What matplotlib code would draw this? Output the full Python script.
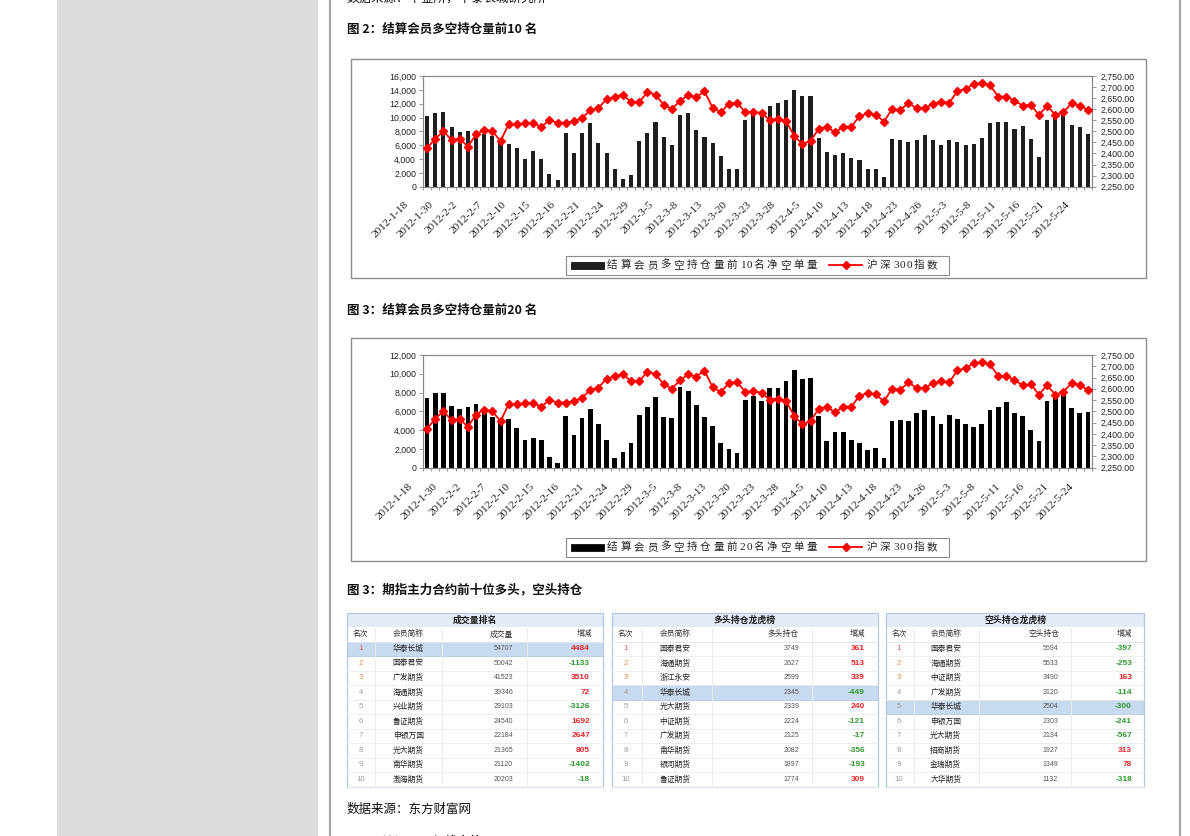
import numpy as np
import matplotlib.pyplot as plt
from matplotlib.patches import Rectangle
from matplotlib.ticker import FuncFormatter
import matplotlib.transforms as mtransforms

plt.rcParams['font.family'] = ['Noto Sans CJK SC', 'DejaVu Sans']

W, H = 1190, 836

# ---- data ----
date_labels = ['2012-1-18', '2012-1-30', '2012-2-2', '2012-2-7', '2012-2-10', '2012-2-15',
               '2012-2-16', '2012-2-21', '2012-2-24', '2012-2-29', '2012-3-5', '2012-3-8',
               '2012-3-13', '2012-3-20', '2012-3-23', '2012-3-28', '2012-4-5', '2012-4-10',
               '2012-4-13', '2012-4-18', '2012-4-23', '2012-4-26', '2012-5-3', '2012-5-8',
               '2012-5-11', '2012-5-16', '2012-5-21', '2012-5-24']

hs300 = [2423, 2467, 2501, 2461, 2467, 2431, 2486, 2507, 2501, 2456,
         2532, 2532, 2536, 2536, 2521, 2550, 2539, 2539, 2545, 2560,
         2595, 2605, 2645, 2655, 2666, 2633, 2633, 2676, 2666, 2620,
         2601, 2637, 2664, 2654, 2681, 2607, 2586, 2625, 2630, 2586,
         2589, 2583, 2551, 2557, 2547, 2479, 2443, 2456, 2512, 2521,
         2495, 2521, 2521, 2569, 2581, 2575, 2544, 2601, 2596, 2628,
         2604, 2604, 2625, 2634, 2628, 2682, 2691, 2714, 2718, 2709,
         2657, 2657, 2639, 2616, 2620, 2574, 2616, 2574, 2586, 2627,
         2616, 2596]

net_short_top10 = [10200, 10700, 10850, 8700, 7900, 8100, 8000, 7600, 7300, 6700,
                   6100, 5600, 4000, 5100, 4000, 1800, 900, 7800, 4900, 7700,
                   9200, 6300, 4900, 2600, 1100, 1700, 6600, 7800, 9400, 7200,
                   6000, 10300, 10700, 8200, 7200, 6300, 4400, 2600, 2600, 9700,
                   10600, 10400, 11700, 12100, 12500, 14000, 13150, 13150, 7100, 5050,
                   4600, 4900, 4200, 3800, 2500, 2500, 1350, 6950, 6700, 6500,
                   6800, 7500, 6700, 6050, 6800, 6500, 6050, 6200, 7100, 9150,
                   9400, 9400, 8400, 8800, 6950, 4350, 9700, 10000, 10600, 8950,
                   8650, 7650]

net_short_top20 = [7400, 8000, 8000, 6600, 6200, 6500, 6750, 6000, 5400, 5000,
                   5150, 4250, 2950, 3150, 2950, 1150, 550, 5550, 3500, 5250,
                   6300, 4700, 2950, 1000, 1700, 2650, 5650, 6450, 7500, 5450,
                   5250, 8550, 8150, 6650, 5350, 4400, 2650, 1950, 1600, 7200,
                   7630, 7100, 8450, 8450, 9230, 10400, 9400, 9590, 5500, 2800,
                   3800, 3800, 2950, 2590, 1880, 2060, 1000, 4970, 5080, 4970,
                   5820, 6140, 5500, 4650, 5610, 5180, 4650, 4300, 4650, 6140,
                   6460, 7030, 5860, 5500, 4010, 2840, 7100, 7630, 7990, 6390,
                   5860, 5930]

ranks = list(range(1, 11))

vol_names = ['华泰长城', '国泰君安', '广发期货', '海通期货', '兴业期货',
             '鲁证期货', '申银万国', '光大期货', '南华期货', '渤海期货']
vol_values = [54707, 50042, 41523, 39346, 29103, 24540, 22184, 21365, 21120, 20203]
vol_changes = [4484, -1133, 3510, 72, -3126, 1692, 2647, 805, -1402, -18]

long_names = ['国泰君安', '海通期货', '浙江永安', '华泰长城', '光大期货',
              '中证期货', '广发期货', '南华期货', '银河期货', '鲁证期货']
long_values = [3749, 2627, 2599, 2345, 2339, 2224, 2125, 2082, 1897, 1774]
long_changes = [361, 513, 339, -449, 240, -121, -17, -356, -193, 309]

short_names = ['国泰君安', '海通期货', '中证期货', '广发期货', '华泰长城',
               '申银万国', '光大期货', '招商期货', '金瑞期货', '大华期货']
short_values = [5694, 5533, 3490, 3120, 2504, 2303, 2134, 1927, 1349, 1132]
short_changes = [-397, -253, 163, -114, -300, -241, -567, 313, 78, -318]

# ---- page ----
fig = plt.figure(figsize=(W / 100, H / 100), dpi=100)
page = fig.add_axes([0, 0, 1, 1])
page.set_xlim(0, W)
page.set_ylim(H, 0)
page.axis('off')


def axes_px(x0, y0, x1, y1):
    return fig.add_axes([x0 / W, 1 - y1 / H, (x1 - x0) / W, (y1 - y0) / H])


page.add_patch(Rectangle((57, 0), 261, H, color='#dcdcdc', lw=0))
page.plot([330, 330], [0, H], color='#a8a8a8', lw=1.6)
page.plot([1180, 1180], [0, H], color='#a8a8a8', lw=1.6)

title_kw = dict(fontsize=9, color='#111111', va='center', ha='left')
page.text(347, -2, '数据来源：中金所，华泰长城研究所', **title_kw)
page.text(347, 29, '图 2：结算会员多空持仓量前10 名', weight='bold', **title_kw)
page.text(347, 310, '图 3：结算会员多空持仓量前20 名', weight='bold', **title_kw)
page.text(347, 590, '图 3：期指主力合约前十位多头，空头持仓', weight='bold', **title_kw)
page.text(347, 809, '数据来源：东方财富网', **title_kw)
page.text(347, 842, '图 4：沪深300 年线走势', weight='bold', **title_kw)


def spaced(x, y, s, size=7.6):
    for ch in s:
        if ord(ch) < 128:
            page.text(x, y, ch, fontsize=size + 0.6, family='Liberation Serif',
                      color='#222222', va='center', ha='left')
            x += 6.7
        else:
            page.text(x, y, ch, fontsize=size, color='#222222', va='center', ha='left')
            x += 13.3


def draw_chart(frame, plot, bars, bar_color, bar_w, ymax, leg_box, leg_text, lab_dx, lab_dy):
    fx0, fy0, fx1, fy1 = frame
    page.add_patch(Rectangle((fx0, fy0), fx1 - fx0, fy1 - fy0, fill=False, ec='#8c8c8c', lw=1))

    # legend
    lx0, ly0, lx1, ly1 = leg_box
    page.add_patch(Rectangle((lx0, ly0), lx1 - lx0, ly1 - ly0, fill=False, ec='#8c8c8c', lw=0.8))
    ly = (ly0 + ly1) / 2
    page.add_patch(Rectangle((lx0 + 4.5, ly - 3.5), 33, 7, fc=bar_color, ec='#111111', lw=0.6))
    spaced(lx0 + 41, ly, leg_text)
    page.plot([829, 862], [ly, ly], color='#ff0000', lw=1.3)
    page.plot([845.5], [ly], color='#ff0000', marker='D', ms=4.2)
    spaced(866.5, ly, '沪深300指数')

    ax = axes_px(*plot)
    idx = np.arange(len(bars))
    ax.bar(idx, bars, width=bar_w, color=bar_color, zorder=2)
    ax.set_xlim(-0.5, len(bars) - 0.5)
    ax.set_ylim(0, ymax)
    ax.set_yticks(np.arange(0, ymax + 1, 2000))
    ax.yaxis.set_major_formatter(FuncFormatter(lambda v, p: f'{int(round(v)):,}'))
    ax.set_xticks(idx[::3])
    ax.set_xticklabels(date_labels, rotation=45, ha='right', va='top',
                       rotation_mode='anchor', fontsize=8.2, family='Liberation Serif',
                       color='#222222')
    ax.set_xticks(np.arange(-0.5, len(bars), 1), minor=True)
    ax.tick_params(axis='x', which='major', length=0, pad=0)
    ax.tick_params(axis='x', which='minor', length=2.5, color='#888888', width=0.6)
    ax.tick_params(axis='y', length=3, color='#888888', width=0.6, pad=2,
                   labelsize=6.3, labelcolor='#222222')
    for lab in ax.get_yticklabels():
        lab.set_family('Liberation Sans')
    off = mtransforms.ScaledTranslation(lab_dx / 100, -lab_dy / 100, fig.dpi_scale_trans)
    for lab in ax.get_xticklabels():
        lab.set_transform(lab.get_transform() + off)
    for sp in ax.spines.values():
        sp.set_color('#888888')
        sp.set_linewidth(0.8)

    ax2 = ax.twinx()
    ax2.plot(idx, hs300, color='#ff0000', lw=1.3, marker='D', ms=4.2, zorder=3)
    ax2.set_ylim(2250, 2750)
    ax2.set_yticks(np.arange(2250, 2751, 50))
    ax2.yaxis.set_major_formatter(FuncFormatter(lambda v, p: f'{v:,.2f}'))
    ax2.tick_params(axis='y', length=3, color='#888888', width=0.6, pad=3,
                    labelsize=6.3, labelcolor='#222222')
    for lab in ax2.get_yticklabels():
        lab.set_family('Liberation Sans')
    for sp in ax2.spines.values():
        sp.set_color('#888888')
        sp.set_linewidth(0.8)


draw_chart((351, 59, 1146, 278), (423, 76, 1092, 186.7), net_short_top10, '#1e1e1e', 0.5,
           16000, (566, 255.5, 949, 274.5), '结算会员多空持仓量前10名净空单量', -23, 13)
draw_chart((351, 338, 1146, 561), (423, 355, 1092, 467.7), net_short_top20, '#000000', 0.58,
           12000, (566, 537.5, 949, 556.5), '结算会员多空持仓量前20名净空单量', -19, 14)

# ---- tables ----
tables = [
    dict(x0=346.7, x1=603.3, title='成交量排名', head=['名次', '会员简称', '成交量', '增减'],
         hx=[360, 408, 501.7, 584], seps=[375, 441.7, 526.7], cx=[361, 408.3, 513, 590],
         names=vol_names, vals=vol_values, chg=vol_changes, hl=0),
    dict(x0=611.7, x1=878.3, title='多头持仓龙虎榜', head=['名次', '会员简称', '多头持仓', '增减'],
         hx=[625, 675, 783.3, 857.3], seps=[641.7, 711.7, 811.7], cx=[626, 675, 799.3, 865],
         names=long_names, vals=long_values, chg=long_changes, hl=3),
    dict(x0=885.7, x1=1144.3, title='空头持仓龙虎榜', head=['名次', '会员简称', '空头持仓', '增减'],
         hx=[899, 945.7, 1044, 1124], seps=[914, 979, 1070.7], cx=[899, 945.7, 1058, 1132],
         names=short_names, vals=short_values, chg=short_changes, hl=4),
]
rank_colors = ['#e85050', '#f08a3c', '#f08a3c'] + ['#9a9a9a'] * 7

top, t_h, h_h, r_h = 613.3, 13.7, 14.7, 14.5
for t in tables:
    x0, x1 = t['x0'], t['x1']
    page.add_patch(Rectangle((x0, top), x1 - x0, t_h, fc='#e3ebf6', ec='none'))
    page.text((x0 + x1) / 2, top + t_h / 2, t['title'], ha='center', va='center',
              fontsize=6.4, weight='bold', color='#1a1a1a')
    y = top + t_h
    for s, hx in zip(t['head'], t['hx']):
        page.text(hx, y + h_h / 2, s, ha='center', va='center', fontsize=5.6, color='#333333')
    for sx in t['seps']:
        page.plot([sx, sx], [y + 1, top + t_h + h_h + 10 * r_h], color='#ececec', lw=0.7)
    y += h_h
    page.plot([x0, x1], [y, y], color='#dde6f0', lw=0.7)
    for i in range(10):
        ry = y + i * r_h
        if i == t['hl']:
            page.add_patch(Rectangle((x0, ry), x1 - x0, r_h, fc='#c8daf0', ec='#b3c9e6', lw=0.6))
        else:
            page.plot([x0, x1], [ry + r_h, ry + r_h], color='#ebebeb', lw=0.6)
        cy = ry + r_h / 2
        page.text(t['cx'][0], cy, str(ranks[i]), ha='center', va='center', fontsize=5.6,
                  family='Liberation Sans', color=rank_colors[i])
        page.text(t['cx'][1], cy, t['names'][i], ha='center', va='center', fontsize=5.6,
                  color='#222222')
        page.text(t['cx'][2], cy, str(t['vals'][i]), ha='right', va='center', fontsize=5,
                  family='Liberation Sans', color='#555555')
        c = t['chg'][i]
        page.text(t['cx'][3], cy, str(c), ha='right', va='center', fontsize=6,
                  family='Liberation Sans', weight='bold',
                  color='#e8262b' if c > 0 else '#2f9a2f')
    page.add_patch(Rectangle((x0, top), x1 - x0, t_h + h_h + 10 * r_h, fill=False,
                             ec='#b4c8e2', lw=0.9))

fig.savefig('out.png', dpi=100)
